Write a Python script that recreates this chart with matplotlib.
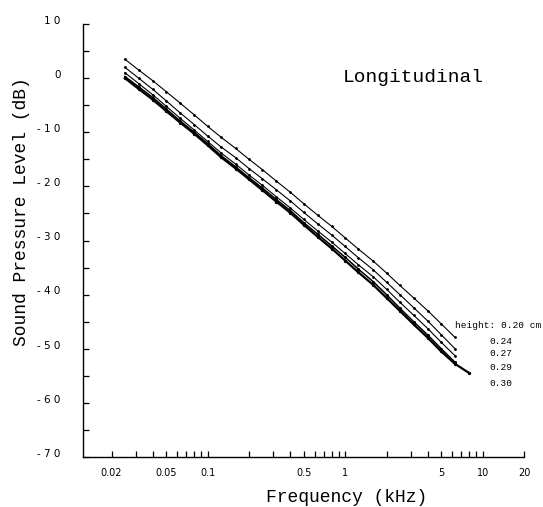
import numpy as np
import matplotlib
matplotlib.use("Agg")
from matplotlib import pyplot as plt
from matplotlib.ticker import FixedLocator, FixedFormatter, NullFormatter
from matplotlib.transforms import ScaledTranslation

# third-octave band centres (kHz)
freq = [0.025, 0.0315, 0.04, 0.05, 0.063, 0.08, 0.1, 0.125, 0.16, 0.2, 0.25,
        0.315, 0.4, 0.5, 0.63, 0.8, 1.0, 1.25, 1.6, 2.0, 2.5, 3.15, 4.0, 5.0, 6.3]
freq_030 = freq + [8.0]

# sound pressure level (dB) for each height
spl_020 = [3.5, 1.5, -0.5, -2.5, -4.6, -6.8, -8.9, -10.9, -13.0, -15.0, -16.9,
           -19.0, -21.1, -23.2, -25.3, -27.4, -29.5, -31.6, -33.8, -36.0, -38.3,
           -40.6, -43.0, -45.4, -47.9]
spl_024 = [2.0, 0.0, -2.1, -4.2, -6.4, -8.6, -10.7, -12.7, -14.7, -16.7, -18.6,
           -20.6, -22.7, -24.8, -26.9, -29.0, -31.1, -33.2, -35.4, -37.7, -40.0,
           -42.4, -44.9, -47.4, -50.0]
spl_027 = [1.0, -1.0, -3.1, -5.2, -7.4, -9.6, -11.7, -13.8, -15.9, -17.9, -19.8,
           -21.9, -24.0, -26.1, -28.2, -30.3, -32.4, -34.5, -36.7, -39.0, -41.4,
           -43.8, -46.3, -48.8, -51.3]
spl_029 = [0.3, -1.6, -3.6, -5.7, -7.9, -10.0, -12.1, -14.3, -16.4, -18.4, -20.3,
           -22.4, -24.5, -26.7, -28.8, -31.0, -33.1, -35.3, -37.6, -40.0, -42.5,
           -45.0, -47.5, -50.0, -52.5]
spl_030 = [0.0, -2.0, -4.0, -6.1, -8.2, -10.3, -12.4, -14.6, -16.7, -18.7, -20.7,
           -22.8, -24.9, -27.1, -29.3, -31.5, -33.7, -35.9, -38.2, -40.6, -43.0,
           -45.5, -48.0, -50.5, -52.8, -54.5]

heights = ["0.20", "0.24", "0.27", "0.29", "0.30"]

x_major = [0.02, 0.05, 0.1, 0.5, 1, 5, 10, 20]
x_major_labels = ["0.02", "0.05", "0.1", "0.5", "1", "5", "10", "20"]
x_minor = [0.03, 0.04, 0.06, 0.07, 0.08, 0.09, 0.2, 0.3, 0.4, 0.6, 0.7, 0.8,
           0.9, 2, 3, 4, 6, 7, 8, 9]
y_major = [10, 0, -10, -20, -30, -40, -50, -60, -70]
y_major_labels = ["1 0", "0", "- 1 0", "- 2 0", "- 3 0", "- 4 0", "- 5 0",
                  "- 6 0", "- 7 0"]

W, H = 543, 507
fig = plt.figure(figsize=(W / 100, H / 100), dpi=100)
ax = fig.add_axes([83 / W, 1 - 457 / H, (524 - 83) / W, (457 - 24) / H])

ax.plot(freq, spl_020, color="black", lw=0.8, marker="o", ms=1.0)
ax.plot(freq, spl_024, color="black", lw=0.8, marker="o", ms=1.0)
ax.plot(freq, spl_027, color="black", lw=0.8, marker="o", ms=1.0)
ax.plot(freq, spl_029, color="black", lw=1.1, marker="o", ms=1.2)
ax.plot(freq_030, spl_030, color="black", lw=1.6, marker="o", ms=1.4)

ax.set_xscale("log")
ax.set_xlim(0.0124, 20)
ax.set_ylim(-70, 10)

for s in ["top", "right"]:
    ax.spines[s].set_visible(False)
for s in ["left", "bottom"]:
    ax.spines[s].set_linewidth(1.0)

ax.xaxis.set_major_locator(FixedLocator(x_major))
ax.xaxis.set_major_formatter(FixedFormatter(x_major_labels))
ax.xaxis.set_minor_locator(FixedLocator(x_minor))
ax.xaxis.set_minor_formatter(NullFormatter())
ax.yaxis.set_major_locator(FixedLocator(y_major))
ax.yaxis.set_major_formatter(FixedFormatter(y_major_labels))
ax.yaxis.set_minor_locator(FixedLocator(np.arange(-65, 10, 10)))

ax.tick_params(axis="both", which="both", direction="in", length=4, width=0.9)
ax.tick_params(axis="x", which="major", pad=8, labelsize=7)
ax.tick_params(axis="y", which="major", pad=16, labelsize=7.5)
for lab in ax.get_yticklabels():
    lab.set_transform(lab.get_transform() + ScaledTranslation(0, 3 / 72, fig.dpi_scale_trans))

mono = "Liberation Mono"
fig.text(347 / W, 1 - 498 / H, "Frequency (kHz)", family=mono, fontsize=13,
         ha="center", va="center")
fig.text(22 / W, 1 - 212 / H, "Sound Pressure Level (dB)", family=mono,
         fontsize=13, rotation=90, ha="center", va="center")
fig.text(343 / W, 1 - 78 / H, "Longitudinal", family=mono, fontsize=14,
         ha="left", va="center")

# height labels next to line ends
fig.text(455 / W, 1 - 326 / H, "height: " + heights[0] + " cm", family=mono,
         fontsize=6.8, ha="left", va="center")
for i, yy in enumerate([341, 354, 368, 383]):
    fig.text(489 / W, 1 - yy / H, heights[i + 1], family=mono, fontsize=6.8,
             ha="left", va="center")

fig.savefig("out.png", dpi=100)
